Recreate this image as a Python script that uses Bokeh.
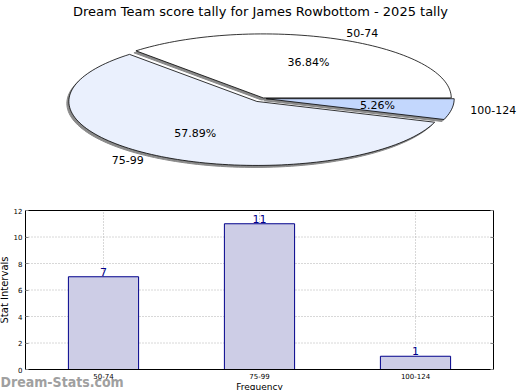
import math
from bokeh.plotting import figure
from bokeh.layouts import column
from bokeh.models import (Range1d, Label, FixedTicker, ColumnDataSource, LinearAxis)
from bokeh.core.properties import value
from bokeh.embed import file_html
from bokeh.resources import INLINE

# ---------------- data ----------------
title_text = "Dream Team score tally for James Rowbottom - 2025 tally"
categories = ["50-74", "75-99", "100-124"]
counts = [7, 11, 1]
pie_colors = ["#ffffff", "#eaf0fd", "#c3d7fd"]
explode = [0.01, 0.055, 0.02]
y_ticks = [0, 2, 4, 6, 8, 10, 12]
y_max = 12
y_label = "Stat Intervals"
x_label = "Frequency"
watermark = "Dream-Stats.com"

FONT = "DejaVu Sans"
W = 520

# ---------------- pie figure ----------------
H1 = 180
RX, RY = 188.0, 64.0          # pixel radii of the elliptical pie
CX, CY = 262.0, 82.0          # pie centre in figure pixels (from left / from bottom)

pie = figure(width=W, height=H1, output_backend="svg", toolbar_location=None,
             x_range=Range1d(-CX / RX, (W - CX) / RX),
             y_range=Range1d(-CY / RY, (H1 - CY) / RY),
             x_axis_type=None, y_axis_type=None, title=None,
             min_border=0, outline_line_color=None)
pie.grid.visible = False

total = float(sum(counts))
fracs = [c / total for c in counts]

sdx, sdy = -2.0 / RX, -2.0 / RY   # shadow offset
shapes = []
a0 = 0.0
for i, f in enumerate(fracs):
    a1 = a0 + f * 2 * math.pi
    mid = (a0 + a1) / 2
    ox, oy = explode[i] * math.cos(mid), explode[i] * math.sin(mid)
    n = max(8, int(200 * f))
    xs = [ox] + [ox + math.cos(a0 + (a1 - a0) * k / n) for k in range(n + 1)] + [ox]
    ys = [oy] + [oy + math.sin(a0 + (a1 - a0) * k / n) for k in range(n + 1)] + [oy]
    shapes.append((xs, ys, mid, ox, oy))
    a0 = a1

for xs, ys, mid, ox, oy in shapes:
    pie.patch([x + sdx for x in xs], [y + sdy for y in ys], fill_color="#8a8a8a",
              line_color="#8a8a8a", line_width=1)
for i, (xs, ys, mid, ox, oy) in enumerate(shapes):
    pie.patch(xs, ys, fill_color=pie_colors[i], line_color="black", line_width=0.8)

for i, (xs, ys, mid, ox, oy) in enumerate(shapes):
    lx = ox + 1.1 * math.cos(mid)
    ly = oy + 1.1 * math.sin(mid)
    align = "left" if math.cos(mid) >= 0 else "right"
    pie.text([lx], [ly], text=[categories[i]], text_align=align, text_baseline="middle",
             text_font=value(FONT), text_font_size="11px", text_color="black")
    px = ox + 0.6 * math.cos(mid)
    py = oy + 0.6 * math.sin(mid)
    pie.text([px], [py], text=["%.2f%%" % (fracs[i] * 100)], text_align="center",
             text_baseline="middle", text_font=value(FONT), text_font_size="11px",
             text_color="black")

pie.add_layout(Label(x=260, y=H1 - 3, x_units="screen", y_units="screen", text=title_text,
                     text_align="center", text_baseline="top", text_font=FONT,
                     text_font_size="13px", text_color="black"))

# ---------------- bar figure ----------------
H2 = 210
PX_PER_CAT = 156.0
PX_PER_Y = 159.0 / y_max
LEFT, RIGHT, TOP, BOTTOM = 25.0, 27.0, 30.0, 21.0   # box position inside the canvas
ncat = len(categories)
xpos = [i + 0.5 for i in range(ncat)]

bar = figure(width=W, height=H2, output_backend="svg", toolbar_location=None,
             x_range=Range1d(-LEFT / PX_PER_CAT, ncat + RIGHT / PX_PER_CAT),
             y_range=Range1d(-BOTTOM / PX_PER_Y, y_max + TOP / PX_PER_Y),
             x_axis_type=None, y_axis_type=None, title=None,
             min_border=0, outline_line_color=None)
bar.grid.visible = False

# dotted grid inside the box
grid_y = [t for t in y_ticks if 0 < t < y_max]
bar.segment(x0=[0] * len(grid_y), x1=[ncat] * len(grid_y), y0=grid_y, y1=grid_y,
            line_color="#b0b0b0", line_dash="1 2", line_width=1)
bar.segment(x0=xpos, x1=xpos, y0=[0] * ncat, y1=[y_max] * ncat,
            line_color="#b0b0b0", line_dash="1 2", line_width=1)

src = ColumnDataSource(dict(x=xpos, val=counts, lab=[str(c) for c in counts]))
bar.vbar(x="x", top="val", width=0.45, source=src, fill_color="#cdcde6",
         line_color="#00008b", line_width=1)
bar.text(x="x", y="val", text="lab", source=src, text_align="center",
         text_baseline="bottom", y_offset=-1, text_font=value(FONT),
         text_font_size="11px", text_color="#00008b")

def style(ax):
    ax.major_label_text_font = FONT
    ax.major_label_text_font_size = "7px"
    ax.major_label_text_color = "black"
    ax.minor_tick_line_color = None
    ax.axis_line_color = "black"
    ax.axis_line_width = 1
    ax.axis_label_text_font = FONT
    ax.axis_label_text_font_style = "normal"
    ax.axis_label_text_color = "black"

xaxis = LinearAxis(fixed_location=0, bounds=(0, ncat), axis_label=x_label,
                   ticker=FixedTicker(ticks=xpos),
                   major_label_overrides={x: c for x, c in zip(xpos, categories)})
style(xaxis)
xaxis.major_tick_in = 0
xaxis.major_tick_out = 0
xaxis.major_label_standoff = 3
xaxis.axis_label_standoff = 0
xaxis.axis_label_text_font_size = "9px"
bar.add_layout(xaxis, "below")

yaxis = LinearAxis(fixed_location=0, bounds=(0, y_max), axis_label=y_label,
                   ticker=FixedTicker(ticks=y_ticks))
style(yaxis)
yaxis.major_tick_in = 3
yaxis.major_tick_out = 0
yaxis.major_tick_line_color = "#888888"
yaxis.major_label_standoff = 3
yaxis.axis_label_standoff = 1
yaxis.axis_label_text_font_size = "10px"
bar.add_layout(yaxis, "left")

raxis = LinearAxis(fixed_location=ncat, bounds=(0, y_max), ticker=FixedTicker(ticks=y_ticks),
                   major_label_overrides={t: "" for t in y_ticks})
style(raxis)
raxis.major_tick_in = 3
raxis.major_tick_out = 0
raxis.major_tick_line_color = "#888888"
bar.add_layout(raxis, "right")

taxis = LinearAxis(fixed_location=y_max, bounds=(0, ncat), ticker=FixedTicker(ticks=[]))
style(taxis)
bar.add_layout(taxis, "above")

bar.add_layout(Label(x=0, y=9, x_units="screen", y_units="screen", text=watermark,
                     text_align="left", text_baseline="middle",
                     text_font="DejaVu Sans Condensed",
                     text_font_size="14px", text_font_style="bold", text_color="#a0a0a0"))

layout = column(pie, bar, spacing=0)
open("out.html", "w").write(file_html(layout, INLINE))
